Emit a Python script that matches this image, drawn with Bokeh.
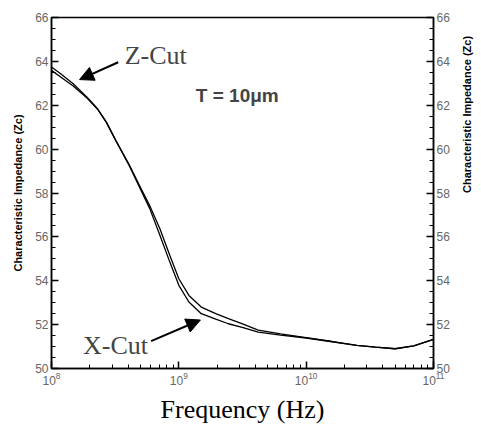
import math
from bokeh.plotting import figure
from bokeh.models import (LinearAxis, Range1d, Label, Arrow, NormalHead,
                          FixedTicker)
from bokeh.embed import file_html
from bokeh.resources import INLINE

# ---- data ----
freq_hz = [1.0e8, 1.18e8, 1.48e8, 1.9e8, 2.3e8, 2.7e8, 3.2e8, 4.1e8, 4.9e8,
           5.9e8, 7.1e8, 8.5e8, 1.0e9, 1.2e9, 1.5e9, 1.95e9, 2.45e9, 3.2e9,
           4.2e9, 6.3e9, 1.0e10, 1.6e10, 2.5e10, 3.5e10, 5.0e10, 7.0e10, 1.0e11]
z_cut = [63.74, 63.44, 62.98, 62.37, 61.84, 61.23, 60.40, 59.26, 58.35,
         57.43, 56.37, 55.15, 54.09, 53.33, 52.80, 52.50, 52.27, 52.02,
         51.75, 51.58, 51.41, 51.23, 51.05, 50.97, 50.90, 51.03, 51.33]
x_cut = [63.59, 63.29, 62.88, 62.33, 61.82, 61.21, 60.38, 59.22, 58.28,
         57.30, 56.07, 54.85, 53.79, 53.03, 52.50, 52.25, 52.04, 51.86,
         51.66, 51.52, 51.39, 51.22, 51.05, 50.97, 50.90, 51.03, 51.33]
y_ticks = [50, 52, 54, 56, 58, 60, 62, 64, 66]
y_minor = [50 + 0.5 * i for i in range(33)]
x_ticks = [1e8, 1e9, 1e10, 1e11]
x_minor = [k * 10 ** e for e in (8, 9, 10) for k in range(2, 10)]

p = figure(width=481, height=427, x_axis_type="log",
           x_range=Range1d(1e8, 1e11), y_range=Range1d(50, 66),
           output_backend="svg", toolbar_location=None,
           min_border_left=51, min_border_right=44,
           min_border_top=17, min_border_bottom=59)
p.grid.visible = False
p.outline_line_color = "black"
p.outline_line_width = 1.5
p.background_fill_color = "white"
p.border_fill_color = "white"

p.line(freq_hz, z_cut, line_color="black", line_width=1.3)
p.line(freq_hz, x_cut, line_color="black", line_width=1.3)

right = LinearAxis()
p.add_layout(right, "right")

def style(ax):
    ax.axis_line_color = "black"
    ax.axis_line_width = 1.5
    ax.major_tick_in = 7
    ax.major_tick_out = 0
    ax.minor_tick_in = 4
    ax.minor_tick_out = 0
    ax.major_tick_line_width = 1.5
    ax.minor_tick_line_width = 1
    ax.major_label_text_font = "Liberation Sans"
    ax.major_label_text_font_size = "12px"
    ax.major_label_text_color = "#666666"
    ax.major_label_standoff = 3

for ax in (p.yaxis[0], right):
    style(ax)
    ax.ticker = FixedTicker(ticks=y_ticks, minor_ticks=y_minor)
    ax.axis_label = "Characteristic Impedance (Zc)"
    ax.axis_label_text_font = "Liberation Sans"
    ax.axis_label_text_font_style = "bold"
    ax.axis_label_text_font_size = "11px"
    ax.axis_label_text_color = "black"
    ax.axis_label_standoff = 8
right.axis_label_orientation = math.pi / 2
right.axis_label_standoff = 14

xa = p.xaxis[0]
style(xa)
xa.ticker = FixedTicker(ticks=x_ticks, minor_ticks=x_minor)
xa.axis_label = "Frequency (Hz)"
xa.axis_label_text_font = "Liberation Serif"
xa.axis_label_text_font_style = "normal"
xa.axis_label_text_font_size = "26px"
xa.axis_label_text_color = "black"
xa.axis_label_standoff = 7

head = dict(size=14, fill_color="black", line_color="black")
p.add_layout(Arrow(end=NormalHead(**head), x_start=3.34e8, y_start=63.96,
                   x_end=1.66e8, y_end=63.17, line_width=2))
p.add_layout(Arrow(end=NormalHead(**head), x_start=6.05e8, y_start=51.25,
                   x_end=1.476e9, y_end=52.21, line_width=2))

p.add_layout(Label(x=3.76e8, y=64.27, text="Z-Cut", text_font="Liberation Serif",
                   text_font_size="26px", text_baseline="middle"))
p.add_layout(Label(x=1.77e8, y=51.03, text="X-Cut", text_font="Liberation Serif",
                   text_font_size="26px", text_baseline="middle"))
p.add_layout(Label(x=1.36e9, y=62.44, text="T = 10μm", text_font="Liberation Sans",
                   text_font_style="bold", text_font_size="19px",
                   text_baseline="middle"))

open("out.html", "w").write(file_html(p, INLINE))
